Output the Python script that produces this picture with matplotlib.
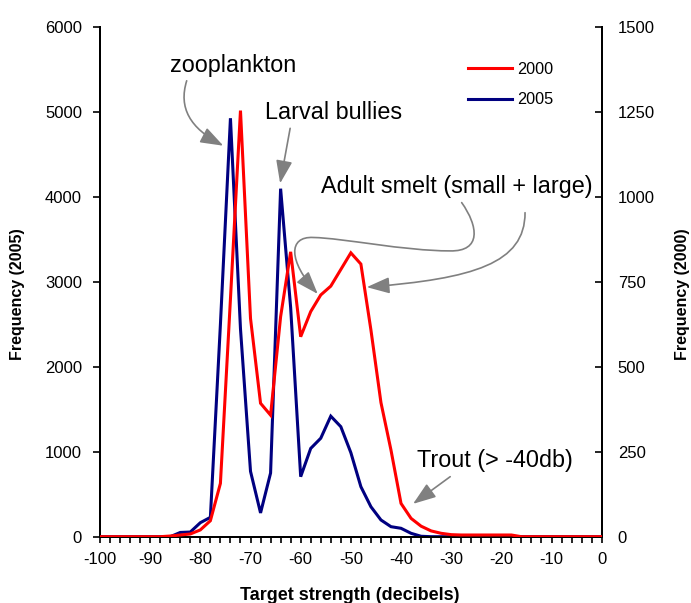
import matplotlib
matplotlib.use('Agg')
import matplotlib.pyplot as plt
from matplotlib.path import Path
from matplotlib.patches import FancyArrowPatch
from matplotlib.ticker import MultipleLocator, FixedLocator
from matplotlib.lines import Line2D

plt.rcParams['font.family'] = ['Liberation Sans', 'DejaVu Sans']

# ---------------- data ----------------
target_strength = list(range(-100, 1, 2))

freq_2000 = [0, 0, 0, 0, 0, 0, 0,            # -100 .. -88
             2, 5, 8, 20, 47, 157, 700, 1255,  # -86 .. -72
             643, 393, 358, 648, 839, 589,     # -70 .. -60
             663, 712, 738, 787, 836, 803,     # -58 .. -48
             609, 395, 255, 98, 54, 31, 17,    # -46 .. -34
             10, 6, 5, 5, 5, 5, 5, 5,          # -32 .. -18
             0, 0, 0, 0, 0, 0, 0, 0, 0]        # -16 .. 0

freq_2005 = [0, 0, 0, 0, 0, 0, 0, 0,           # -100 .. -86
             50, 55, 165, 228, 2500, 4930,     # -84 .. -74
             2450, 770, 280, 750, 4100, 2700,  # -72 .. -62
             707, 1040, 1160, 1420, 1296, 990, # -60 .. -50
             589, 353, 197, 118, 99, 40, 5,    # -48 .. -36
             0, 0, 0, 0, 0, 0, 0, 0, 0,        # -34 .. -18
             0, 0, 0, 0, 0, 0, 0, 0, 0]        # -16 .. 0

x_tick_labels = list(range(-100, 1, 10))
left_ticks = [0, 1000, 2000, 3000, 4000, 5000, 6000]
right_ticks = [0, 250, 500, 750, 1000, 1250, 1500]
series_labels = ['2000', '2005']

RED = '#FF0000'
NAVY = '#000080'
GRAY = '#808080'

# ---------------- figure ----------------
W, H = 691, 603
fig = plt.figure(figsize=(W / 100, H / 100), dpi=100)
ax_left_px, ax_right_px, ax_top_px, ax_bot_px = 100, 601.7, 27.4, 536.7
ax = fig.add_axes([ax_left_px / W, 1 - ax_bot_px / H,
                   (ax_right_px - ax_left_px) / W, (ax_bot_px - ax_top_px) / H])
ax2 = ax.twinx()

ax.plot(target_strength, freq_2005, color=NAVY, lw=2.2, solid_joinstyle='miter', zorder=3)
ax2.plot(target_strength, freq_2000, color=RED, lw=2.2, solid_joinstyle='miter', zorder=3)

ax.set_xlim(-100, 0)
ax.set_ylim(0, 6000)
ax2.set_ylim(0, 1500)

ax.xaxis.set_major_locator(FixedLocator(x_tick_labels))
ax.xaxis.set_minor_locator(MultipleLocator(2))
ax.set_xticklabels([str(v) for v in x_tick_labels])
ax.yaxis.set_major_locator(FixedLocator(left_ticks))
ax.set_yticklabels([str(v) for v in left_ticks])
ax2.yaxis.set_major_locator(FixedLocator(right_ticks))
ax2.set_yticklabels([str(v) for v in right_ticks])

ax.tick_params(axis='x', which='both', direction='out', length=4, width=1.2,
               labelsize=12, pad=7, colors='black')
ax.tick_params(axis='y', which='major', direction='out', length=5, width=1.2,
               labelsize=12, pad=8)
ax2.tick_params(axis='y', which='major', direction='in', length=5, width=1.2,
                labelsize=12, pad=11.5)

for a in (ax, ax2):
    a.spines['top'].set_visible(False)
    for s in ('left', 'right', 'bottom'):
        a.spines[s].set_linewidth(1.4)
        a.spines[s].set_color('black')
ax.patch.set_visible(False)

# axis titles
fig.text(350 / W, 1 - 596 / H, 'Target strength (decibels)', ha='center', va='center',
         fontsize=13, fontweight='bold')
fig.text(18 / W, 1 - 294 / H, 'Frequency (2005)', ha='center', va='center',
         rotation=90, fontsize=11.5, fontweight='bold')
fig.text(682 / W, 1 - 294 / H, 'Frequency (2000)', ha='center', va='center',
         rotation=90, fontsize=11.5, fontweight='bold')

# legend
handles = [Line2D([], [], color=RED, lw=2.2), Line2D([], [], color=NAVY, lw=2.2)]
fig.legend(handles, series_labels, loc='upper left',
           bbox_to_anchor=(468 / W, 1 - 62 / H), bbox_transform=fig.transFigure,
           frameon=False, fontsize=11.7, handlelength=2.7, handletextpad=0.3,
           labelspacing=0.95, borderpad=0, borderaxespad=0)

# annotation texts
ann_fs = 16.8
ax.text(-86.05, 5478, 'zooplankton', fontsize=ann_fs, ha='left', va='baseline')
ax.text(-67.2, 4925, 'Larval bullies', fontsize=ann_fs, ha='left', va='baseline')
ax.text(-56.0, 4045, 'Adult smelt (small + large)', fontsize=ann_fs, ha='left', va='baseline')
ax.text(-36.85, 825, 'Trout (> -40db)', fontsize=ann_fs, ha='left', va='baseline')

arrow_kw = dict(arrowstyle='-|>,head_length=1.4,head_width=0.5', mutation_scale=10,
                color=GRAY, lw=1.2, transform=ax.transData, zorder=4)

def bez_arrow(verts, codes):
    p = Path(verts, codes)
    ax.add_patch(FancyArrowPatch(path=p, **arrow_kw))

C4 = Path.CURVE4
# zooplankton arrow
bez_arrow([(-82.72, 5371), (-84.39, 5052), (-82.06, 4813), (-75.42, 4606)],
          [Path.MOVETO, C4, C4, C4])
# larval bullies arrow
bez_arrow([(-62.1, 4811), (-64.1, 4163)], [Path.MOVETO, Path.LINETO])
# adult smelt S-curve arrow
bez_arrow([(-27.91, 3936), (-24.58, 3657), (-23.92, 3359), (-30.23, 3367),
           (-39.53, 3367), (-51.5, 3518), (-57.5, 3525),
           (-62.5, 3540), (-62.5, 3250), (-56.6, 2860)],
          [Path.MOVETO, C4, C4, C4, C4, C4, C4, C4, C4, C4])
# adult smelt second arrow
bez_arrow([(-15.28, 3817), (-15.28, 3219), (-25.58, 3040), (-46.84, 2940)],
          [Path.MOVETO, C4, C4, C4])
# trout arrow
bez_arrow([(-30.2, 707), (-37.6, 387)], [Path.MOVETO, Path.LINETO])

fig.savefig('out.png', dpi=100)
